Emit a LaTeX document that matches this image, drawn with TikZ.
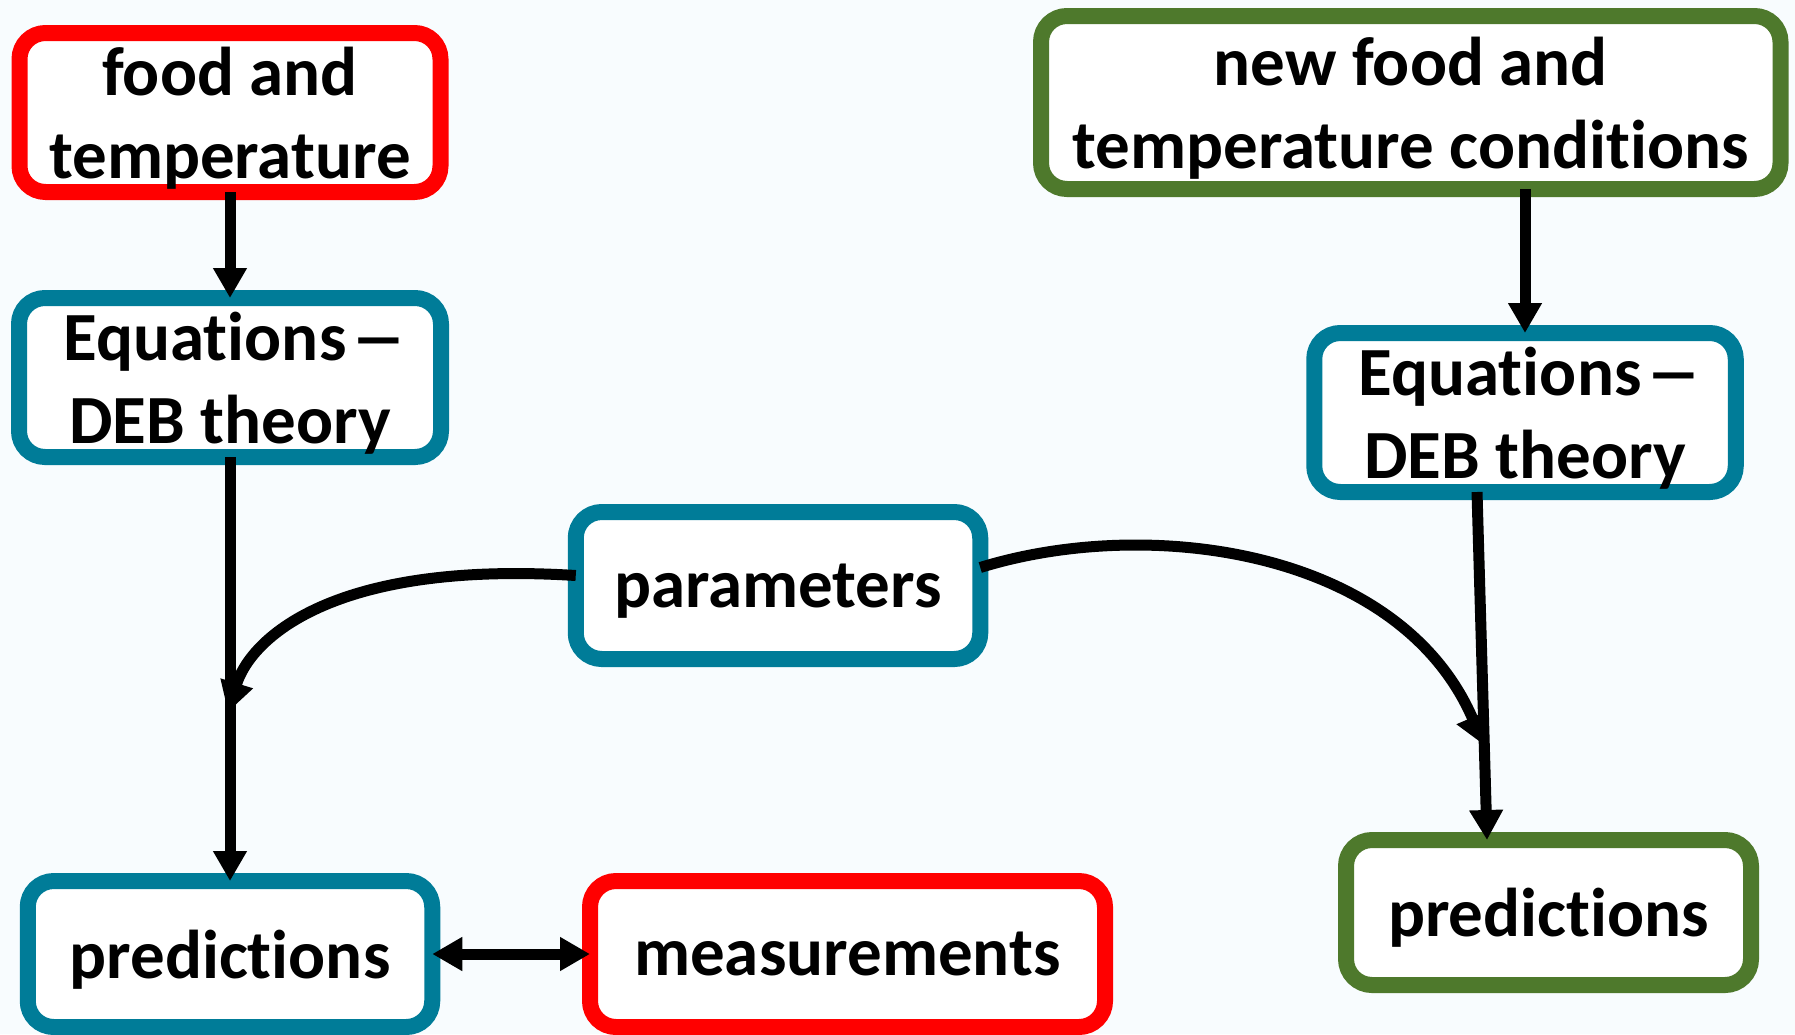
\documentclass[tikz,border=0pt]{standalone}
\usepackage{fontspec}
\setmainfont{Carlito}[Ligatures={TeX,NoCommon}]
\usepackage{tikz}
\usetikzlibrary{positioning,arrows.meta}
\definecolor{debred}{RGB}{255,0,0}
\definecolor{debblue}{RGB}{0,124,152}
\definecolor{debgreen}{RGB}{78,121,44}
\definecolor{paper}{RGB}{248,252,254}
\newcommand{\debdash}{\hspace{16pt}\makebox[34pt]{\scalebox{1.65}[1]{–}}}
\tikzset{node distance=2cm, auto,
  box/.style={draw, line width=16pt, rounded corners=26pt, fill=white,
    inner sep=0pt, outer sep=0pt, align=center, text depth=0pt,
    font=\fontsize{69}{83}\selectfont\bfseries},
  link/.style={line width=11pt, -{Triangle[width=32pt,length=30pt]}},
  twoway/.style={line width=11pt,
    {Triangle[width=32pt,length=30pt]}-{Triangle[width=32pt,length=30pt]}}}

\begin{document}
\begin{tikzpicture}[x=1pt,y=-1pt]

              \fill [paper] (0,0) rectangle (1795,1034);
              \useasboundingbox (0,0) rectangle (1795,1034);

              % left column: calibration
              \node (food) [box, draw=debred, minimum width=421pt, minimum height=159pt]
                    at (230,112.5) {food and\\temperature};
              \node (eqL) [box, draw=debblue, minimum width=422pt, minimum height=159pt,
                    below of=food, node distance=265pt] {Equations\debdash\\DEB theory};
              \node (predL) [box, draw=debblue, minimum width=404.5pt, minimum height=146pt,
                    below of=eqL, node distance=576.5pt] {predictions};
              \node (meas) [box, draw=debred, minimum width=515pt, minimum height=146pt,
                    right of=predL, node distance=617.5pt] {measurements};

              \node (param) [box, draw=debblue, minimum width=404.5pt, minimum height=147pt]
                    at (778,585.5) {parameters};

              % right column: new conditions
              \node (newfood) [box, draw=debgreen, minimum width=739.5pt, minimum height=173pt]
                    at (1410.75,102.5) {new food and\\temperature conditions};
              \node (eqR) [box, draw=debblue, minimum width=421.5pt, minimum height=159pt]
                    at (1525,412.5) {Equations\debdash\\DEB theory};
              \node (predR) [box, draw=debgreen, minimum width=405pt, minimum height=145pt]
                    at (1548.5,912.5) {predictions};

              \coordinate (mergeL) at (228,712);
              \coordinate (mergeR) at (1484,745);

              \draw [link] (food.south) to (eqL.north);
              \draw [link] (eqL.south) to (predL.north);
              \draw [twoway] (predL.east) to (meas.west);
              \draw [link] (eqR.north |- newfood.south) to (eqR.north);
              \draw [link] ([xshift=-48pt]eqR.south) to ([xshift=-61.5pt]predR.north);
              \draw [link] ([yshift=10pt]param.west) .. controls (330,560) and (250,640) .. (mergeL);
              \draw [link] ([yshift=18pt]param.east) .. controls (1150,515) and (1400,550) .. (mergeR);
            \end{tikzpicture}
\end{document}
